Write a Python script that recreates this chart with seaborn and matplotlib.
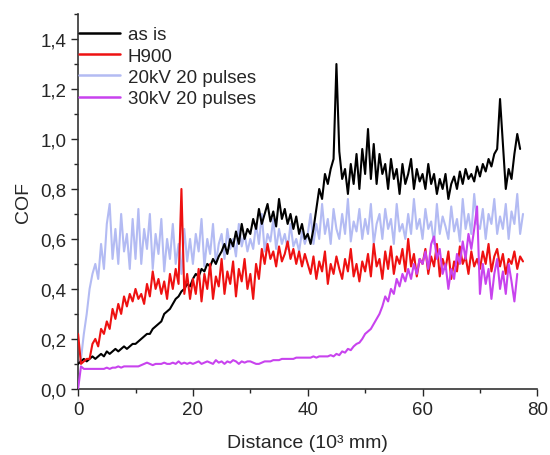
import numpy as np
import pandas as pd
import matplotlib
matplotlib.use("Agg")
import matplotlib.pyplot as plt
from matplotlib.ticker import MultipleLocator, FuncFormatter
import seaborn as sns

# COF traces, sampled every 0.5 x 10^3 mm (one row = 10 units of distance)
as_is = [
    0.10, 0.11, 0.12, 0.11, 0.12, 0.13, 0.12, 0.13, 0.14, 0.13, 0.15, 0.14, 0.15, 0.16, 0.15, 0.16, 0.17, 0.16, 0.17, 0.18,
    0.18, 0.19, 0.20, 0.21, 0.22, 0.22, 0.24, 0.25, 0.26, 0.27, 0.30, 0.31, 0.32, 0.34, 0.36, 0.37, 0.39, 0.40, 0.42, 0.41,
    0.44, 0.46, 0.45, 0.48, 0.47, 0.50, 0.49, 0.52, 0.50, 0.53, 0.55, 0.58, 0.54, 0.60, 0.57, 0.63, 0.58, 0.66, 0.60, 0.64,
    0.62, 0.68, 0.64, 0.72, 0.66, 0.70, 0.74, 0.67, 0.71, 0.65, 0.76, 0.68, 0.72, 0.66, 0.70, 0.64, 0.69, 0.62, 0.66, 0.60,
    0.62, 0.58, 0.64, 0.72, 0.80, 0.76, 0.86, 0.82, 0.88, 0.92, 1.30, 0.95, 0.84, 0.88, 0.78, 0.90, 0.82, 0.94, 0.80, 0.96,
    0.86, 1.04, 0.84, 0.98, 0.82, 0.94, 0.86, 0.90, 0.80, 0.92, 0.84, 0.88, 0.78, 0.90, 0.82, 0.86, 0.92, 0.80, 0.88, 0.83,
    0.86, 0.80, 0.90, 0.82, 0.86, 0.78, 0.84, 0.80, 0.86, 0.76, 0.82, 0.85, 0.80, 0.87, 0.82, 0.88, 0.84, 0.86, 0.83, 0.89,
    0.85, 0.90, 0.87, 0.92, 0.89, 0.94, 0.96, 1.16, 0.98, 0.80, 0.88, 0.84, 0.94, 1.02, 0.96,
]
h900 = [
    0.22, 0.10, 0.11, 0.12, 0.12, 0.18, 0.20, 0.17, 0.24, 0.22, 0.27, 0.24, 0.32, 0.28, 0.34, 0.30, 0.37, 0.33, 0.38, 0.35,
    0.40, 0.36, 0.38, 0.34, 0.42, 0.37, 0.47, 0.40, 0.44, 0.38, 0.43, 0.36, 0.46, 0.40, 0.48, 0.42, 0.80, 0.38, 0.46, 0.36,
    0.44, 0.38, 0.48, 0.35, 0.46, 0.40, 0.50, 0.36, 0.45, 0.41, 0.52, 0.38, 0.47, 0.42, 0.51, 0.37, 0.48, 0.43, 0.52, 0.40,
    0.46, 0.36, 0.50, 0.44, 0.56, 0.50, 0.58, 0.52, 0.55, 0.49, 0.57, 0.51, 0.54, 0.59, 0.52, 0.56, 0.50, 0.55, 0.49, 0.54,
    0.50, 0.46, 0.53, 0.44, 0.51, 0.47, 0.55, 0.42, 0.50, 0.46, 0.53, 0.48, 0.44, 0.52, 0.47, 0.56, 0.45, 0.50, 0.43, 0.51,
    0.47, 0.54, 0.45, 0.58, 0.49, 0.52, 0.44, 0.55, 0.48, 0.57, 0.46, 0.53, 0.50, 0.56, 0.47, 0.60, 0.49, 0.54, 0.45, 0.52,
    0.50, 0.56, 0.46, 0.53, 0.49, 0.58, 0.45, 0.52, 0.48, 0.55, 0.44, 0.51, 0.47, 0.57, 0.50, 0.53, 0.46, 0.55, 0.49, 0.52,
    0.48, 0.55, 0.50, 0.58, 0.47, 0.53, 0.56, 0.49, 0.54, 0.46, 0.52, 0.50, 0.55, 0.48, 0.53, 0.51,
]
kv20 = [
    0.10, 0.12, 0.22, 0.30, 0.40, 0.46, 0.50, 0.44, 0.58, 0.48, 0.66, 0.74, 0.52, 0.64, 0.50, 0.70, 0.55, 0.62, 0.48, 0.68,
    0.52, 0.72, 0.50, 0.64, 0.56, 0.70, 0.48, 0.62, 0.54, 0.68, 0.47, 0.60, 0.52, 0.66, 0.50, 0.58, 0.46, 0.64, 0.51, 0.60,
    0.50, 0.62, 0.55, 0.68, 0.49, 0.60, 0.54, 0.66, 0.50, 0.58, 0.62, 0.52, 0.64, 0.56, 0.60, 0.53, 0.66, 0.57, 0.62, 0.55,
    0.60, 0.56, 0.66, 0.58, 0.70, 0.55, 0.62, 0.59, 0.68, 0.56, 0.64, 0.58, 0.62, 0.56, 0.66, 0.57, 0.60, 0.55, 0.63, 0.58,
    0.62, 0.70, 0.58, 0.66, 0.60, 0.74, 0.62, 0.68, 0.58, 0.72, 0.64, 0.60, 0.70, 0.62, 0.76, 0.59, 0.67, 0.63, 0.72, 0.60,
    0.68, 0.62, 0.74, 0.58, 0.66, 0.70, 0.60, 0.72, 0.64, 0.68, 0.58, 0.74, 0.63, 0.66, 0.60, 0.70, 0.62, 0.76, 0.64, 0.68,
    0.60, 0.72, 0.64, 0.67, 0.58, 0.74, 0.62, 0.69, 0.65, 0.60, 0.73, 0.63, 0.68, 0.59, 0.76, 0.64, 0.70, 0.62, 0.78, 0.66,
    0.64, 0.72, 0.60, 0.70, 0.66, 0.76, 0.62, 0.69, 0.64, 0.74, 0.60, 0.71, 0.66, 0.78, 0.62, 0.70,
]
kv30 = [
    0.00, 0.09, 0.08, 0.08, 0.08, 0.08, 0.08, 0.08, 0.08, 0.08, 0.085, 0.08, 0.085, 0.085, 0.09, 0.085, 0.09, 0.09, 0.09, 0.09,
    0.09, 0.09, 0.095, 0.10, 0.105, 0.10, 0.095, 0.10, 0.10, 0.10, 0.105, 0.10, 0.10, 0.105, 0.10, 0.11, 0.10, 0.105, 0.10, 0.105,
    0.10, 0.105, 0.11, 0.10, 0.105, 0.11, 0.105, 0.10, 0.115, 0.105, 0.11, 0.10, 0.11, 0.105, 0.115, 0.11, 0.10, 0.11, 0.105, 0.11,
    0.11, 0.105, 0.10, 0.10, 0.105, 0.11, 0.11, 0.11, 0.115, 0.115, 0.115, 0.12, 0.12, 0.12, 0.12, 0.12, 0.125, 0.125, 0.125, 0.125,
    0.125, 0.125, 0.13, 0.125, 0.13, 0.13, 0.13, 0.13, 0.135, 0.13, 0.14, 0.135, 0.15, 0.145, 0.16, 0.155, 0.17, 0.18, 0.185, 0.20,
    0.22, 0.23, 0.24, 0.26, 0.28, 0.30, 0.33, 0.37, 0.35, 0.40, 0.38, 0.44, 0.41, 0.46, 0.43, 0.48, 0.44, 0.50, 0.46, 0.52,
    0.50, 0.55, 0.48, 0.58, 0.61, 0.52, 0.56, 0.46, 0.50, 0.40, 0.48, 0.44, 0.54, 0.50, 0.59, 0.52, 0.62, 0.56, 0.64, 0.73,
    0.38, 0.50, 0.42, 0.48, 0.36, 0.46, 0.52, 0.40, 0.47, 0.38, 0.50, 0.43, 0.35, 0.46,
]

series = [
    ("as is", as_is, "#000000", 3),
    ("H900", h900, "#ee1111", 4),
    ("20kV 20 pulses", kv20, "#b3bbf3", 2),
    ("30kV 20 pulses", kv30, "#c843ee", 5),
]

sns.set_style("ticks")
plt.rcParams['font.family'] = ['Liberation Sans', 'DejaVu Sans']

fig = plt.figure(figsize=(5.5, 4.56), dpi=100)
ax = fig.add_axes([0.142, 0.145, 0.835, 0.822])

for name, vals, col, z in series:
    dist = np.arange(len(vals)) * 0.5
    df = pd.DataFrame({"Distance": dist, "COF": vals})
    sns.lineplot(data=df, x="Distance", y="COF", ax=ax, color=col, lw=1.5,
                 label=name, estimator=None, zorder=z)

ax.set_xlim(0, 80)
ax.set_ylim(0, 1.5)
ax.xaxis.set_major_locator(MultipleLocator(20))
ax.xaxis.set_minor_locator(MultipleLocator(10))
ax.yaxis.set_major_locator(MultipleLocator(0.2))
ax.yaxis.set_minor_locator(MultipleLocator(0.1))
ax.yaxis.set_major_formatter(FuncFormatter(lambda v, p: f"{v:.1f}".replace(".", ",")))
ax.tick_params(which="major", length=5, width=1, labelsize=13.5, direction="out")
ax.tick_params(which="minor", length=3, width=1, direction="out")
for s in ["top", "right"]:
    ax.spines[s].set_visible(False)
for s in ["left", "bottom"]:
    ax.spines[s].set_linewidth(1.2)
    ax.spines[s].set_color("#333333")

ax.set_xlabel("Distance (10³ mm)", fontsize=14, labelpad=12)
ax.set_ylabel("COF", fontsize=14, labelpad=6)

leg = ax.legend(loc="upper left", frameon=False, fontsize=13.5, handlelength=2.2,
                handletextpad=0.4, labelspacing=0.22, borderaxespad=0.05,
                borderpad=0.0, bbox_to_anchor=(0.0, 0.97))
for line in leg.get_lines():
    line.set_linewidth(1.8)

fig.savefig("out.png", dpi=100)
